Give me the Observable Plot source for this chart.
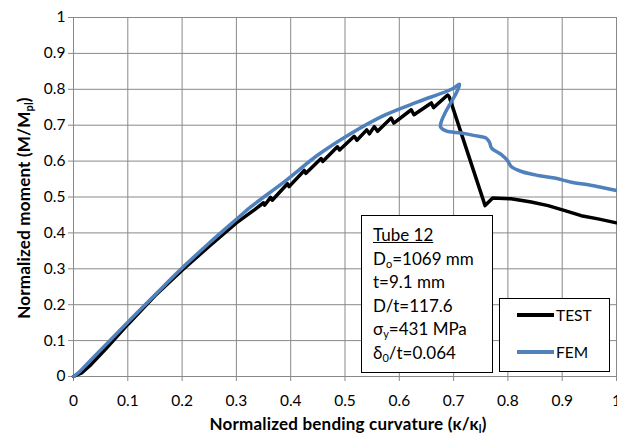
<!DOCTYPE html>
<html><head><meta charset="utf-8">
<script src="https://cdn.jsdelivr.net/npm/d3@7"></script>
<script src="https://cdn.jsdelivr.net/npm/@observablehq/plot@0.6"></script>
<style>
body{margin:0;background:#fff;overflow:hidden;font-family:Lato,"Open Sans",sans-serif;}
#wrap{position:relative;width:617px;height:435px;overflow:hidden;}
.box{position:absolute;border:1.5px solid #000;background:#fff;box-sizing:border-box;}
#ann{left:361px;top:215px;width:132px;height:158px;padding:7px 0 0 11px;font-size:17px;line-height:23.5px;color:#000;}
#ann sub{font-size:11px;vertical-align:-3px;line-height:0;}
#leg{left:499px;top:298px;width:111px;height:74px;font-size:15.5px;}
.li{position:absolute;left:17px;display:flex;align-items:center;}
.li span.sw{display:inline-block;width:37px;height:4px;margin-right:2px;}
.lab{position:absolute;font-weight:bold;font-size:17px;letter-spacing:0.2px;color:#000;white-space:nowrap;}
.lab sub{font-size:11px;vertical-align:-3px;line-height:0;}
</style></head><body><div id="wrap"></div>
<script>
// TEST (black) curve
const testX = [0,0.015,0.03,0.06,0.1,0.15,0.2,0.25,0.3,0.333,0.35,0.352,0.363,0.366,0.394,0.397,0.425,0.428,0.456,0.459,0.486,0.49,0.517,0.522,0.54,0.545,0.554,0.56,0.585,0.59,0.622,0.627,0.659,0.663,0.689,0.692,0.758,0.772,0.806,0.843,0.874,0.905,0.935,0.966,1.0];
const testY = [0,0.01,0.03,0.078,0.145,0.225,0.296,0.363,0.428,0.464,0.484,0.477,0.499,0.491,0.537,0.529,0.574,0.566,0.607,0.599,0.64,0.631,0.669,0.658,0.687,0.676,0.696,0.683,0.72,0.706,0.743,0.729,0.762,0.749,0.784,0.779,0.476,0.497,0.495,0.486,0.476,0.462,0.448,0.439,0.428];
// FEM (blue) curve
const femX = [0,0.01,0.037,0.1,0.161,0.2,0.25,0.3,0.327,0.388,0.45,0.511,0.573,0.634,0.696,0.711,0.705,0.695,0.684,0.677,0.676,0.686,0.714,0.739,0.76,0.766,0.77,0.788,0.799,0.806,0.825,0.855,0.886,0.917,0.948,0.978,1.0];
const femY = [0,0.012,0.054,0.151,0.244,0.302,0.372,0.438,0.473,0.542,0.617,0.677,0.728,0.765,0.8,0.814,0.79,0.763,0.733,0.708,0.695,0.684,0.678,0.671,0.664,0.653,0.636,0.618,0.602,0.585,0.571,0.56,0.553,0.541,0.534,0.525,0.518];
const xTicks = [0,0.1,0.2,0.3,0.4,0.5,0.6,0.7,0.8,0.9,1];
const yTicks = [0,0.1,0.2,0.3,0.4,0.5,0.6,0.7,0.8,0.9,1];
const seriesNames = ["TEST","FEM"];
const seriesColors = ["#000000","#4F81BD"];

const test = testX.map((x,i)=>({x, y:testY[i]}));
const fem = femX.map((x,i)=>({x, y:femY[i]}));
const fmt = d => String(+d.toFixed(1));
const grid = "#898989";

const chart = Plot.plot({
  width: 617, height: 435,
  marginLeft: 73, marginRight: 1, marginTop: 17, marginBottom: 59,
  style: {fontFamily: "Lato, 'Open Sans', sans-serif", fontSize: "15px", color: "#000", background: "#fff"},
  x: {domain: [0,1]},
  y: {domain: [0,1]},
  marks: [
    Plot.gridX(xTicks, {stroke: grid, strokeOpacity: 1}),
    Plot.gridY(yTicks, {stroke: grid, strokeOpacity: 1}),
    Plot.axisX(xTicks, {tickFormat: fmt, tickSize: 5, tickPadding: 13, stroke: grid, label: null, fontSize: 15.5}),
    Plot.axisY(yTicks, {tickFormat: fmt, tickSize: 5, tickPadding: 3, stroke: grid, label: null, fontSize: 15.5}),
    Plot.ruleX([0], {stroke: grid}),
    Plot.ruleY([0], {stroke: grid}),
    Plot.line(test, {x: "x", y: "y", stroke: seriesColors[0], strokeWidth: 3.5, strokeLinejoin: "round"}),
    Plot.line(fem, {x: "x", y: "y", stroke: seriesColors[1], strokeWidth: 3.5, curve: "catmull-rom", strokeLinejoin: "round"})
  ]
});
const wrap = document.getElementById("wrap");
wrap.appendChild(chart);

const ylab = document.createElement("div");
ylab.className = "lab";
ylab.innerHTML = "Normalized moment (M/M<sub>pl</sub>)";
ylab.style.cssText = "left:23px;top:208px;transform:translate(-50%,-50%) rotate(-90deg);";
wrap.appendChild(ylab);

const xlab = document.createElement("div");
xlab.className = "lab";
xlab.innerHTML = "Normalized bending curvature (&kappa;/&kappa;<sub>l</sub>)";
xlab.style.cssText = "left:348px;top:423px;transform:translate(-50%,-50%);";
wrap.appendChild(xlab);

const ann = document.createElement("div");
ann.className = "box"; ann.id = "ann";
ann.innerHTML = "<u>Tube 12</u><br>D<sub>o</sub>=1069 mm<br>t=9.1 mm<br>D/t=117.6<br>&sigma;<sub>y</sub>=431 MPa<br>&delta;<sub>0</sub>/t=0.064";
wrap.appendChild(ann);

const leg = document.createElement("div");
leg.className = "box"; leg.id = "leg";
seriesNames.forEach((n,i)=>{
  const it = document.createElement("div");
  it.className = "li";
  it.style.top = (i===0 ? 7 : 44) + "px";
  it.innerHTML = `<span class="sw" style="background:${seriesColors[i]}"></span>${n}`;
  leg.appendChild(it);
});
wrap.appendChild(leg);
</script></body></html>
